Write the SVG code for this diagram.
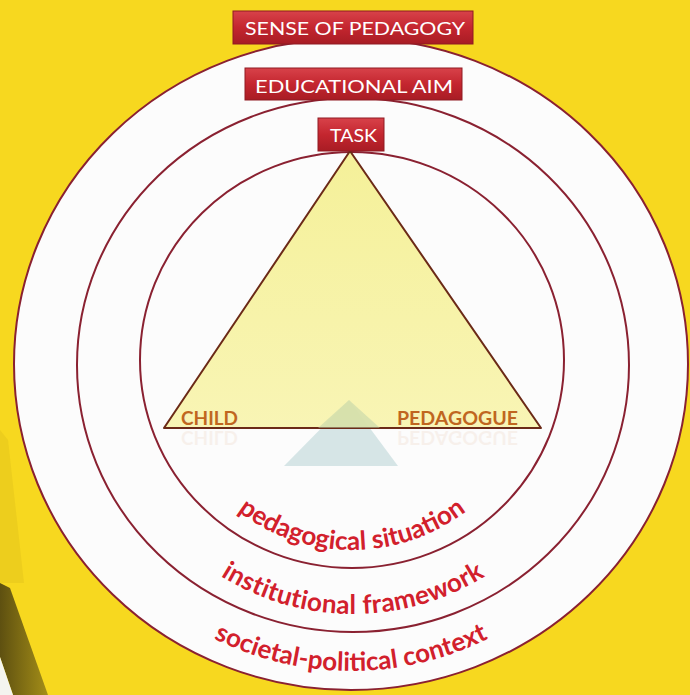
<svg xmlns="http://www.w3.org/2000/svg" width="690" height="695" viewBox="0 0 690 695">
  <defs>
    <linearGradient id="boxGrad" x1="0" y1="0" x2="0" y2="1">
      <stop offset="0" stop-color="#d8424a"/>
      <stop offset="0.5" stop-color="#c4262f"/>
      <stop offset="1" stop-color="#a81c24"/>
    </linearGradient>
    <linearGradient id="triGrad" x1="0" y1="0" x2="0" y2="1">
      <stop offset="0" stop-color="#f4ef8e"/>
      <stop offset="1" stop-color="#f8f4ad"/>
    </linearGradient>
    <linearGradient id="bandGrad" x1="0" y1="0" x2="1" y2="0">
      <stop offset="0" stop-color="#5e5010"/>
      <stop offset="1" stop-color="#a48e18"/>
    </linearGradient>
    <path id="arcInner" d="M 208 482.8 A 188 188 0 0 0 496 482.8"/>
    <path id="arcMiddle" d="M 149 507.8 A 249 249 0 0 0 557 507.8"/>
    <path id="arcOuter" d="M 99.5 540 A 307 307 0 0 0 602.5 540"/>
    <style>
      .ring { fill: #fcfcfc; stroke: #8a2131; stroke-width: 2; }
      .box { fill: url(#boxGrad); stroke: #8f1b22; stroke-width: 1; }
      .boxText { fill: #ffffff; font-family: Lato, "Liberation Sans", sans-serif; font-size: 17px; }
      .corner { fill: #c0661f; font-family: Lato, "Liberation Sans", sans-serif; font-size: 19px; font-weight: bold; }
      .arcText { fill: #d2202c; font-family: Lato, "Liberation Sans", sans-serif; font-size: 26px; font-weight: bold; }
    </style>
  </defs>

  <g id="background">
    <rect x="0" y="0" width="690" height="695" fill="#f7d81f"/>
    <polygon points="0,430 8,440 24,583 0,583" fill="#e3c41b" opacity="0.5"/>
    <polygon points="0,583 10,588 48,695 13,695 0,657" fill="url(#bandGrad)"/>
    <polygon points="0,657 13,695 0,695" fill="#f4f4ef"/>
  </g>

  <g id="ring-societal">
    <ellipse class="ring" cx="351" cy="364" rx="337" ry="326"/>
  </g>
  <g id="ring-institutional">
    <ellipse class="ring" cx="353" cy="365" rx="276" ry="267"/>
  </g>
  <g id="ring-pedagogical">
    <ellipse class="ring" cx="352" cy="360" rx="212" ry="208"/>
  </g>

  <g id="watermark" opacity="0.45">
    <polygon points="349,400 284,466 398,466" fill="#a9c9cc"/>
  </g>

  <g id="triangle">
    <polygon points="350,151 164,428 541,428" fill="url(#triGrad)" fill-opacity="0.9" stroke="#6b2a17" stroke-width="2" stroke-linejoin="round"/>
    <polygon points="349,400 318,428 380,428" fill="#b9cfa8" opacity="0.5"/>
  </g>

  <g id="child">
    <text class="corner" x="181" y="425" textLength="57" lengthAdjust="spacingAndGlyphs">CHILD</text>
    <text class="corner" x="181" y="431" transform="translate(0,862) scale(1,-1)" textLength="57" lengthAdjust="spacingAndGlyphs" opacity="0.07">CHILD</text>
  </g>
  <g id="pedagogue">
    <text class="corner" x="397" y="425" textLength="121" lengthAdjust="spacingAndGlyphs">PEDAGOGUE</text>
    <text class="corner" x="397" y="431" transform="translate(0,862) scale(1,-1)" textLength="121" lengthAdjust="spacingAndGlyphs" opacity="0.07">PEDAGOGUE</text>
  </g>

  <g id="sense-of-pedagogy">
    <rect class="box" x="233" y="11" width="240" height="33"/>
    <text class="boxText" x="245" y="35" textLength="220" lengthAdjust="spacingAndGlyphs">SENSE OF PEDAGOGY</text>
  </g>
  <g id="educational-aim">
    <rect class="box" x="245" y="68" width="217" height="32"/>
    <text class="boxText" x="255" y="93" textLength="198" lengthAdjust="spacingAndGlyphs">EDUCATIONAL AIM</text>
  </g>
  <g id="task">
    <rect class="box" x="318" y="118" width="66" height="33"/>
    <text class="boxText" x="330" y="142" textLength="47" lengthAdjust="spacingAndGlyphs">TASK</text>
  </g>

  <g id="label-pedagogical-situation">
    <text class="arcText" letter-spacing="0"><textPath href="#arcInner" startOffset="50%" text-anchor="middle">pedagogical situation</textPath></text>
  </g>
  <g id="label-institutional-framework">
    <text class="arcText" letter-spacing="0.3"><textPath href="#arcMiddle" startOffset="50%" text-anchor="middle">institutional framework</textPath></text>
  </g>
  <g id="label-societal-political-context">
    <text class="arcText" letter-spacing="0"><textPath href="#arcOuter" startOffset="50%" text-anchor="middle">societal-political context</textPath></text>
  </g>

  <g id="connectors"></g>
</svg>
